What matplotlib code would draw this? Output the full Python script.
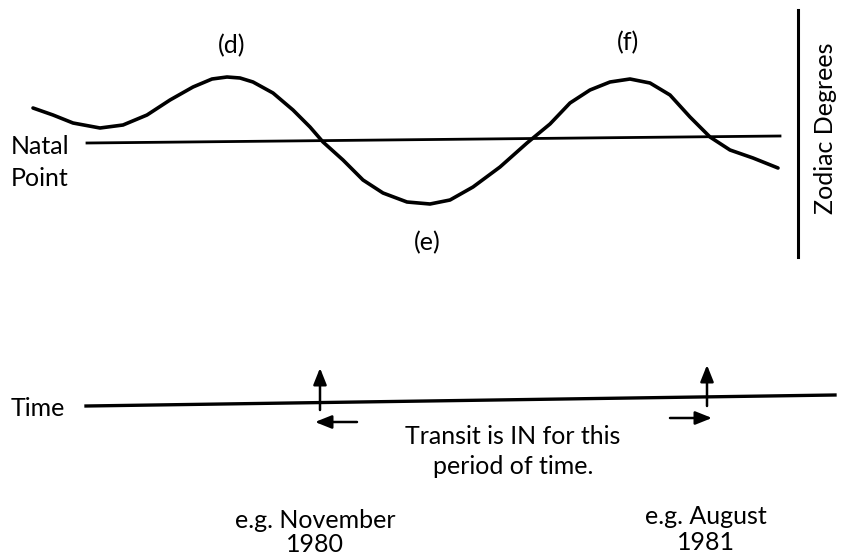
import matplotlib
matplotlib.use("Agg")
import matplotlib.pyplot as plt

plt.rcParams['font.family'] = ['Lato', 'DejaVu Sans']

# Transit curve (diagram units: x to the right, y downward)
curve_x = [33, 53, 73, 100, 123, 147, 170, 193, 212, 227, 240, 253, 273, 293, 310, 323,
           343, 363, 383, 407, 430, 450, 473, 500, 527, 550, 570, 590, 610, 630, 650,
           670, 690, 710, 730, 753, 778]
curve_y = [108, 115, 123, 128, 125, 115, 100, 87, 79, 77, 78, 82, 93, 110, 127, 142,
           160, 180, 193, 202, 204, 200, 187, 167, 143, 124, 103, 90, 82, 79, 83,
           95, 117, 137, 150, 158, 168]

natal_x = [87, 780]
natal_y = [143, 136]

time_x = [86, 835]
time_y = [406, 395]

labels = ["(d)", "(e)", "(f)"]
label_x = [232, 427, 628]
label_y = [46, 243, 43]

fig = plt.figure(figsize=(8.41, 5.57), dpi=100)
ax = fig.add_axes([0, 0, 1, 1])
ax.set_xlim(0, 841)
ax.set_ylim(557, 0)
ax.axis('off')

fs = 18
ax.plot(curve_x, curve_y, color='black', lw=2.6, solid_capstyle='round', solid_joinstyle='round')
ax.plot(natal_x, natal_y, color='black', lw=2.0)
ax.plot([798, 798], [10, 257], color='black', lw=2.2)
ax.plot(time_x, time_y, color='black', lw=2.4)

for t, x, y in zip(labels, label_x, label_y):
    ax.text(x, y, t, ha='center', va='center', fontsize=fs)

ax.text(11, 147, "Natal", ha='left', va='center', fontsize=fs)
ax.text(11, 178, "Point", ha='left', va='center', fontsize=fs)
ax.text(826, 128, "Zodiac Degrees", rotation=90, ha='center', va='center', fontsize=fs)
ax.text(11, 408, "Time", ha='left', va='center', fontsize=fs)

arr = dict(arrowstyle='-|>,head_length=1.0,head_width=0.4', color='black', lw=1.8, shrinkA=0, shrinkB=0)
ax.annotate('', xy=(320, 368), xytext=(320, 410), arrowprops=arr)
ax.annotate('', xy=(707, 365), xytext=(707, 406), arrowprops=arr)
ax.annotate('', xy=(315, 422), xytext=(357, 422), arrowprops=arr)
ax.annotate('', xy=(712, 418), xytext=(670, 418), arrowprops=arr)

ax.text(513, 437, "Transit is IN for this", ha='center', va='center', fontsize=fs)
ax.text(513, 467, "period of time.", ha='center', va='center', fontsize=fs)
ax.text(315, 520, "e.g. November", ha='center', va='center', fontsize=fs)
ax.text(315, 544, "1980", ha='center', va='center', fontsize=fs)
ax.text(706, 516, "e.g. August", ha='center', va='center', fontsize=fs)
ax.text(706, 542, "1981", ha='center', va='center', fontsize=fs)

fig.savefig("out.png", dpi=100)
